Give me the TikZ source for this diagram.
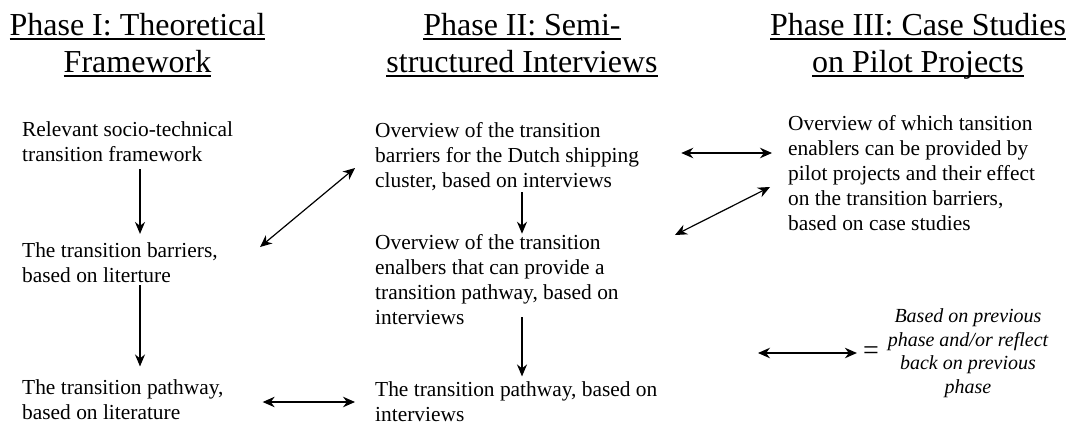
\documentclass[tikz,border=0pt]{standalone}
\usepackage{fontspec}
\setmainfont{Liberation Serif}
\usetikzlibrary{arrows.meta}

\newcommand\headline[1]{\setbox0\hbox{#1}\rlap{\rule[-4.7pt]{\wd0}{1.4pt}}\box0}

\begin{document}
\begin{tikzpicture}[
        x=1pt, y=-1pt,
        phase/.style={anchor=base, align=center, inner sep=0pt, font=\fontsize{32}{37}\selectfont},
        box/.style={anchor=base west, align=left, inner sep=0pt, font=\fontsize{21.4}{25}\selectfont},
        key/.style={anchor=base, align=center, inner sep=0pt, font=\fontsize{20}{23.5}\selectfont\itshape},
        one way/.style={-{Stealth[length=12pt,width=10pt]}, line width=1.6pt},
        two way/.style={{Stealth[length=12pt,width=10.5pt]}-{Stealth[length=12pt,width=10.5pt]}, line width=1.2pt},
        ]
    
    \useasboundingbox (0,0) rectangle (1069,424);
    
    % phase titles (base = last line)
    \node[phase] (ph1) at (137.5,72) {\headline{Phase I: Theoretical}\\\headline{Framework}};
    \node[phase] (ph2) at (522,72) {\headline{Phase II: Semi-}\\\headline{structured Interviews}};
    \node[phase] (ph3) at (918,72) {\headline{Phase III: Case Studies}\\\headline{on Pilot Projects}};
    
    % phase I
    \node[box] (a1) at (22,161) {Relevant socio-technical\\transition framework};
    \node[box] (a2) at (22,282) {The transition barriers,\\based on literture};
    \node[box] (a3) at (22,419) {The transition pathway,\\based on literature};
    
    % phase II
    \node[box] (b1) at (375,187) {Overview of the transition\\barriers for the Dutch shipping\\cluster, based on interviews};
    \node[box] (b2) at (375,324) {Overview of the transition\\enalbers that can provide a\\transition pathway, based on\\interviews};
    \node[box] (b3) at (375,421) {The transition pathway, based on\\interviews};
    
    % phase III
    \node[box] (c1) at (788,230) {Overview of which tansition\\enablers can be provided by\\pilot projects and their effect\\on the transition barriers,\\based on case studies};
    
    % legend
    \node[key] (note) at (968,393) {Based on previous\\phase and/or reflect\\back on previous\\phase};
    \node[inner sep=0pt, font=\fontsize{28}{28}\selectfont] (eq) at (871,353) {=};
    
    \coordinate (colA) at (140,0);
    \coordinate (colB) at (522,0);
    
    \draw[one way, shorten <=8pt, shorten >=8pt] (a1.south -| colA) -- (a2.north -| colA);
    \draw[one way, shorten <=3pt, shorten >=12.5pt] (a2.south -| colA) -- (a3.north -| colA);
    \draw[one way, shorten <=2pt] (b1.south -| colB) -- (b2.north -| colB);
    \draw[one way, shorten <=-7pt, shorten >=4.5pt] (b2.south -| colB) -- (b3.north -| colB);
    
    \coordinate (a2r) at (260,247);
    \coordinate (b1l) at (355,168);
    \coordinate (b2r) at (675,235);
    \coordinate (c1l) at (770,187);
    \draw[two way] (a2r) -- (b1l);
    \draw[two way] (b2r) -- (c1l);
    \draw[two way, shorten <=39pt, shorten >=20pt] (a3.east |- 0,402) -- (b3.west |- 0,402);
    \draw[two way, shorten <=42pt, shorten >=16pt] (b1.east |- 0,153) -- (c1.west |- 0,153);
    \draw[two way, shorten >=6pt] (758,353) -- (eq.west);
    \end{tikzpicture}
\end{document}
